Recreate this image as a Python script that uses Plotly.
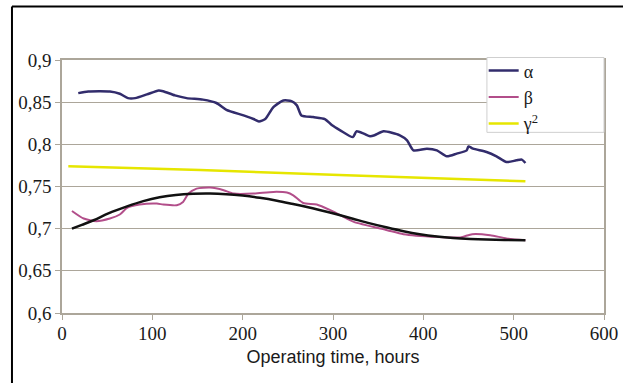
import plotly.graph_objects as go

# ---- data ----
alpha_x = [18, 29, 53, 64, 73, 81, 94, 107, 112, 125, 138, 156, 171, 182, 201, 212, 218, 225, 234, 245,
           254, 260, 265, 278, 291, 299, 308, 322, 326, 334, 341, 346, 356, 374, 382, 389, 404, 415, 426,
           437, 448, 450, 455, 470, 481, 492, 503, 509, 513]
alpha_y = [0.8607, 0.8627, 0.8627, 0.860, 0.8548, 0.8548, 0.8592, 0.8639, 0.863, 0.858, 0.8548, 0.853,
           0.849, 0.841, 0.8343, 0.830, 0.8272, 0.830, 0.8441, 0.852, 0.8513, 0.8462, 0.8343, 0.8323,
           0.830, 0.8225, 0.8166, 0.8086, 0.8154, 0.8127, 0.8095, 0.8107, 0.8154, 0.8107, 0.8047, 0.7929,
           0.7949, 0.7929, 0.7858, 0.789, 0.7929, 0.7976, 0.7949, 0.7909, 0.7858, 0.779, 0.781, 0.7819,
           0.7779]

beta_x = [11, 24, 38, 53, 64, 72, 86, 105, 112, 127, 134, 140, 149, 164, 179, 190, 212, 234, 249, 256,
          267, 282, 297, 308, 323, 360, 378, 415, 441, 454, 474, 492, 513]
beta_y = [0.721, 0.712, 0.7089, 0.712, 0.7168, 0.7246, 0.7286, 0.7298, 0.7286, 0.7278, 0.7317, 0.7416,
          0.7475, 0.7487, 0.7456, 0.7416, 0.7416, 0.7436, 0.7428, 0.7396, 0.7305, 0.7286, 0.7219, 0.716,
          0.708, 0.6982, 0.6935, 0.6903, 0.6896, 0.6935, 0.6923, 0.6884, 0.6864]

gamma_x = [7, 153, 307, 396, 513]
gamma_y = [0.774, 0.7695, 0.7635, 0.7605, 0.7562]

fit_x = [11, 22, 35, 52, 72, 90, 108, 126, 145, 164, 182, 200, 219, 238, 256, 270, 285, 304, 322, 341,
         360, 378, 396, 415, 433, 452, 470, 490, 513]
fit_y = [0.700, 0.7045, 0.7100, 0.7185, 0.7265, 0.7327, 0.7372, 0.7400, 0.7414, 0.7417, 0.7409, 0.7392,
         0.7366, 0.7332, 0.7292, 0.7260, 0.7222, 0.7170, 0.7118, 0.7063, 0.7013, 0.6970, 0.6935, 0.6908,
         0.6890, 0.6878, 0.6871, 0.6867, 0.6864]

y_ticks = [0.6, 0.65, 0.7, 0.75, 0.8, 0.85, 0.9]
y_tick_labels = ["0,6", "0,65", "0,7", "0,75", "0,8", "0,85", "0,9"]
x_ticks = [0, 100, 200, 300, 400, 500, 600]
x_tick_labels = ["0", "100", "200", "300", "400", "500", "600"]

grid_col = "#aca69a"

fig = go.Figure()
fig.add_trace(go.Scatter(x=alpha_x, y=alpha_y, mode="lines", name="α",
                         line=dict(color="#322c6c", width=2.5, shape="spline", smoothing=0.6)))
fig.add_trace(go.Scatter(x=beta_x, y=beta_y, mode="lines", name="β",
                         line=dict(color="#b24e8a", width=2, shape="spline", smoothing=0.6)))
fig.add_trace(go.Scatter(x=gamma_x, y=gamma_y, mode="lines", name="γ<sup>2</sup>",
                         line=dict(color="#e6e600", width=2.5)))
fig.add_trace(go.Scatter(x=fit_x, y=fit_y, mode="lines", showlegend=False,
                         line=dict(color="#111111", width=2.5, shape="spline", smoothing=1.0)))

tick_font = dict(family="Liberation Serif", size=19, color="#1a1a1a")

fig.update_layout(
    width=623, height=383,
    margin=dict(l=62, r=19, t=60, b=70, autoexpand=False),
    paper_bgcolor="white", plot_bgcolor="white",
    showlegend=True,
    legend=dict(x=0.778, y=1.03, xanchor="left", yanchor="top",
                bgcolor="rgba(0,0,0,0)", borderwidth=0, tracegroupgap=0,
                font=dict(family="Liberation Serif", size=18, color="#1a1a1a")),
    xaxis=dict(range=[0, 600], tickvals=x_ticks, ticktext=x_tick_labels, automargin=False,
               showgrid=False, zeroline=False, showline=True, linecolor=grid_col, linewidth=1.5,
               mirror=True, ticks="outside", ticklen=5, tickcolor=grid_col,
               ticklabelstandoff=-3, tickfont=tick_font,
               title=dict(text="Operating time, hours", standoff=8,
                          font=dict(family="Liberation Sans", size=18, color="#1a1a1a"))),
    yaxis=dict(range=[0.6, 0.9], tickvals=y_ticks, ticktext=y_tick_labels, automargin=False,
               showgrid=True, gridcolor=grid_col, gridwidth=1.2, zeroline=False,
               showline=True, linecolor=grid_col, linewidth=1.5, mirror=True,
               ticks="outside", ticklen=5, tickcolor=grid_col, tickfont=tick_font),
    shapes=[
        dict(type="line", xref="paper", yref="paper", x0=-0.0923, x1=-0.0923, y0=-0.3, y1=1.211,
             line=dict(color="black", width=2)),
        dict(type="line", xref="paper", yref="paper", x0=-0.0923, x1=1.05, y0=1.211, y1=1.211,
             line=dict(color="black", width=2)),
        dict(type="rect", xref="paper", yref="paper", x0=0.784, x1=1.0, y0=0.714, y1=1.0099,
             layer="above", fillcolor="white", line=dict(color="#cfcfcf", width=1)),
    ],
)

fig.write_html("out.html", config={"displayModeBar": False},
               post_script="document.body.style.margin='0';")
